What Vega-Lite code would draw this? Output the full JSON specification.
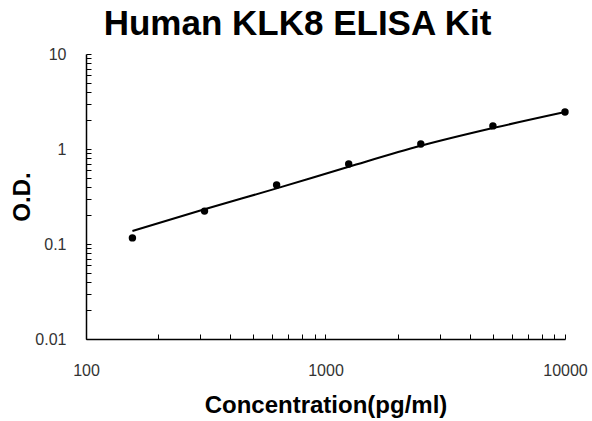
{
  "$schema": "https://vega.github.io/schema/vega-lite/v6.json",
  "width": 479,
  "height": 285,
  "autosize": {"type": "none"},
  "padding": {"left": 86, "top": 54, "right": 27, "bottom": 82},
  "background": "white",
  "title": {
    "text": "Human KLK8 ELISA Kit",
    "font": "Liberation Sans",
    "fontSize": 35,
    "fontWeight": "bold",
    "color": "black",
    "anchor": "middle",
    "dx": -28,
    "offset": 4
  },
  "config": {
    "view": {"stroke": null},
    "axis": {
      "grid": false,
      "domainColor": "black",
      "domainWidth": 1.5,
      "tickColor": "black",
      "tickWidth": 1,
      "labelFont": "Liberation Sans",
      "labelFontSize": 16,
      "labelColor": "#333333",
      "labelOverlap": false,
      "labelFlush": false,
      "titleFont": "Liberation Sans",
      "titleFontSize": 24,
      "titleFontWeight": "bold",
      "titleColor": "black"
    }
  },
  "datasets": {
    "points": [
      {"conc": 156.25, "od": 0.116},
      {"conc": 312.5, "od": 0.222},
      {"conc": 625, "od": 0.418},
      {"conc": 1250, "od": 0.695},
      {"conc": 2500, "od": 1.13},
      {"conc": 5000, "od": 1.75},
      {"conc": 10000, "od": 2.45}
    ],
    "curve": [
      {"conc": 156.25, "od": 0.137},
      {"conc": 312.5, "od": 0.232},
      {"conc": 625, "od": 0.385},
      {"conc": 1250, "od": 0.65},
      {"conc": 2500, "od": 1.08},
      {"conc": 5000, "od": 1.66},
      {"conc": 10000, "od": 2.45}
    ]
  },
  "layer": [
    {
      "data": {"name": "curve"},
      "mark": {"type": "line", "color": "black", "strokeWidth": 2, "interpolate": "monotone"},
      "encoding": {
        "x": {
          "field": "conc", "type": "quantitative",
          "scale": {"type": "log", "domain": [100, 10000], "nice": false},
          "axis": {
            "title": "Concentration(pg/ml)",
            "values": [100,200,300,400,500,600,700,800,900,1000,2000,3000,4000,5000,6000,7000,8000,9000,10000],
            "labelExpr": "(datum.value == 100 || datum.value == 1000 || datum.value == 10000) ? toString(datum.value) : ''",
            "tickSize": -5,
            "labelPadding": 28,
            "titleX": 239.5,
            "titleY": 73,
            "titleBaseline": "alphabetic"
          }
        },
        "y": {
          "field": "od", "type": "quantitative",
          "scale": {"type": "log", "domain": [0.01, 10], "nice": false},
          "axis": {
            "title": "O.D.",
            "values": [0.01,0.02,0.03,0.04,0.05,0.06,0.07,0.08,0.09,0.1,0.2,0.3,0.4,0.5,0.6,0.7,0.8,0.9,1,2,3,4,5,6,7,8,9,10],
            "labelExpr": "(datum.value == 0.01 || datum.value == 0.1 || datum.value == 1 || datum.value == 10) ? toString(datum.value) : ''",
            "tickSize": -5,
            "labelPadding": 25,
            "titleX": -64,
            "titleY": 142.5,
            "titleAngle": -90,
            "titleAlign": "center",
            "titleBaseline": "middle"
          }
        }
      }
    },
    {
      "data": {"name": "points"},
      "mark": {"type": "point", "filled": true, "color": "black", "size": 55, "opacity": 1},
      "encoding": {
        "x": {"field": "conc", "type": "quantitative", "scale": {"type": "log", "domain": [100, 10000], "nice": false}},
        "y": {"field": "od", "type": "quantitative", "scale": {"type": "log", "domain": [0.01, 10], "nice": false}}
      }
    }
  ]
}
